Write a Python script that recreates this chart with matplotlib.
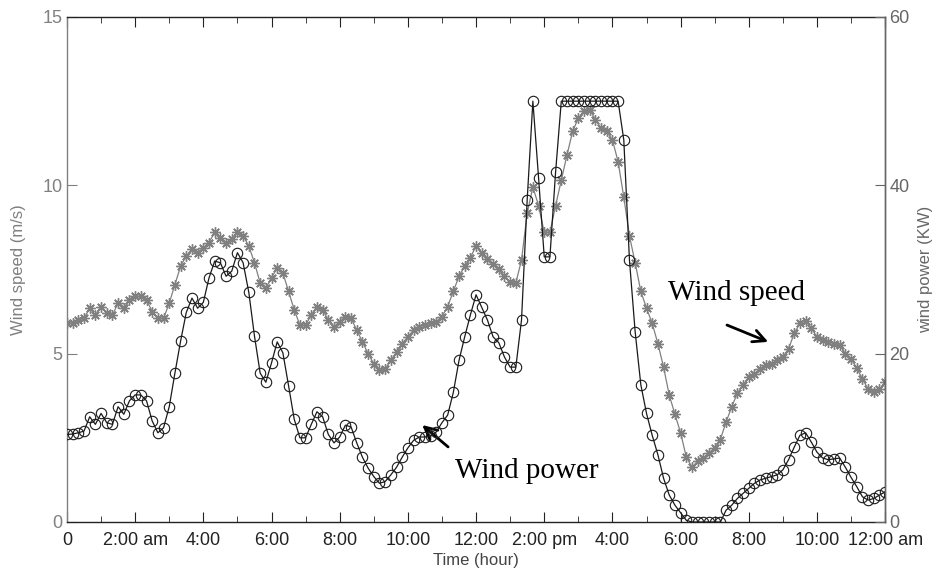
import numpy as np
import matplotlib
matplotlib.use("Agg")
from matplotlib import pyplot as plt
from matplotlib import rcParams

rcParams["font.family"] = "Liberation Sans"
rcParams["font.size"] = 11

# one reading every 10 minutes, 0:00 .. 24:00
hours = np.arange(145) / 6.0

wind_speed = [
    5.9, 5.92, 6.0, 6.05, 6.35, 6.15, 6.4, 6.2, 6.15, 6.5,
    6.35, 6.6, 6.7, 6.7, 6.6, 6.25, 6.05, 6.05, 6.5, 7.05,
    7.6, 7.9, 8.1, 8.0, 8.15, 8.3, 8.6, 8.45, 8.3, 8.4,
    8.6, 8.5, 8.2, 7.7, 7.1, 6.95, 7.25, 7.55, 7.4, 6.85,
    6.3, 5.85, 5.85, 6.15, 6.4, 6.3, 6.0, 5.8, 5.95, 6.1,
    6.05, 5.7, 5.35, 5.0, 4.7, 4.5, 4.55, 4.8, 5.05, 5.3,
    5.5, 5.7, 5.8, 5.85, 5.9, 5.95, 6.1, 6.4, 6.85, 7.3,
    7.6, 7.85, 8.2, 8.0, 7.8, 7.65, 7.5, 7.3, 7.13, 7.1,
    7.78, 9.18, 9.95, 9.4, 8.6, 8.6, 9.4, 10.15, 10.9, 11.6,
    12.0, 12.2, 12.25, 11.95, 11.7, 11.6, 11.35, 10.7, 9.65, 8.5,
    7.7, 6.85, 6.35, 5.9, 5.3, 4.6, 3.77, 3.2, 2.65, 1.93,
    1.63, 1.8, 1.9, 2.05, 2.2, 2.45, 2.97, 3.42, 3.83, 4.07,
    4.3, 4.4, 4.55, 4.65, 4.7, 4.8, 4.9, 5.15, 5.6, 5.9,
    5.98, 5.75, 5.5, 5.4, 5.35, 5.3, 5.25, 5.0, 4.85, 4.57,
    4.25, 3.95, 3.87, 3.95, 4.15,
]

wind_power = [
    10.4, 10.45, 10.6, 10.8, 12.5, 11.6, 12.9, 11.8, 11.6, 13.7,
    12.8, 14.4, 15.1, 15.1, 14.4, 12.0, 10.6, 11.2, 13.7, 17.7,
    21.5, 24.9, 26.6, 25.4, 26.1, 29.0, 31.0, 30.8, 29.2, 29.8,
    32.0, 30.8, 27.3, 22.1, 17.7, 16.6, 18.9, 21.4, 20.1, 16.2,
    12.2, 10.0, 10.0, 11.6, 13.1, 12.5, 10.4, 9.4, 10.1, 11.5,
    11.3, 9.4, 7.7, 6.4, 5.4, 4.6, 4.8, 5.6, 6.5, 7.7,
    8.8, 9.7, 10.1, 10.1, 10.2, 10.7, 11.8, 12.7, 15.4, 19.2,
    22.0, 24.6, 27.0, 25.5, 24.0, 22.0, 21.3, 19.6, 18.4, 18.4,
    24.0, 38.3, 50.0, 40.9, 31.5, 31.5, 41.6, 50.0, 50.0, 50.0,
    50.0, 50.0, 50.0, 50.0, 50.0, 50.0, 50.0, 50.0, 45.4, 31.1,
    22.6, 16.3, 12.9, 10.3, 8.0, 5.2, 3.2, 2.0, 1.1, 0.2,
    0.0, 0.0, 0.0, 0.0, 0.0, 0.0, 1.4, 2.0, 2.8, 3.4,
    4.0, 4.6, 5.0, 5.2, 5.4, 5.6, 6.2, 7.4, 8.9, 10.3,
    10.6, 9.5, 8.3, 7.6, 7.4, 7.5, 7.6, 6.5, 5.3, 4.2,
    3.0, 2.6, 2.8, 3.2, 3.6,
]

tick_hours = list(range(0, 25, 2))
tick_labels = ["0", "2:00 am", "4:00", "6:00", "8:00", "10:00", "12:00",
               "2:00 pm", "4:00", "6:00", "8:00", "10:00", "12:00 am"]

SPEED_GREY = "#808080"

fig = plt.figure(figsize=(9.34, 5.8), dpi=100)
ax = fig.add_axes([0.0717, 0.1, 0.876, 0.8707])
ax2 = ax.twinx()

# wind speed, left axis
ax.plot(hours, wind_speed, color=SPEED_GREY, lw=0.9, marker=(8, 2, 0),
        markersize=7.5, markeredgewidth=1.0, markeredgecolor=SPEED_GREY)
# wind power, right axis
ax2.plot(hours, wind_power, color="#1a1a1a", lw=0.9, marker="o",
         markersize=7.5, markerfacecolor="none", markeredgecolor="#1a1a1a",
         markeredgewidth=0.8)

ax.set_xlim(0, 24)
ax.set_ylim(0, 15)
ax2.set_ylim(0, 60)

ax.set_xticks(tick_hours)
ax.set_xticklabels(tick_labels, fontsize=13, color="#222222")
ax.set_xticks(range(1, 24, 2), minor=True)
ax.set_yticks([0, 5, 10, 15])
ax2.set_yticks([0, 20, 40, 60])

ax.tick_params(axis="x", which="both", direction="in", top=True, pad=7)
ax.tick_params(axis="x", which="major", length=7, color="#222222")
ax.tick_params(axis="x", which="minor", length=4, color="#222222")
ax.tick_params(axis="y", direction="in", length=7, colors=SPEED_GREY,
               labelsize=13, pad=3)
ax2.tick_params(axis="y", direction="in", length=7, colors="#666666",
                labelsize=13, pad=3)

for side, spine in ax.spines.items():
    spine.set_linewidth(1.0)
ax.spines["left"].set_color(SPEED_GREY)
ax.spines["bottom"].set_color("#222222")
ax.spines["top"].set_color("#222222")
ax2.spines["right"].set_color("#666666")
ax2.spines["left"].set_visible(False)
ax2.spines["top"].set_visible(False)
ax2.spines["bottom"].set_visible(False)

ax.set_xlabel("Time (hour)", fontsize=12, color="#444444", labelpad=3)
ax.set_ylabel("Wind speed (m/s)", fontsize=12, color=SPEED_GREY, labelpad=12)
ax2.set_ylabel("wind power (KW)", fontsize=12, color="#666666", labelpad=6,
               rotation=90)

serif = ["Liberation Serif", "DejaVu Serif"]
arrow_kw = dict(arrowstyle="->", lw=2, color="black", mutation_scale=22,
                shrinkA=0, shrinkB=0)

ax.text(17.63, 6.6, "Wind speed", fontsize=21, family=serif,
        ha="left", va="baseline")
ax.annotate("", xy=(20.57, 5.35), xytext=(19.36, 5.85), arrowprops=arrow_kw)

ax.text(11.38, 1.31, "Wind power", fontsize=21, family=serif,
        ha="left", va="baseline")
ax.annotate("", xy=(10.42, 2.88), xytext=(11.18, 2.23), arrowprops=arrow_kw)

fig.savefig("out.png", dpi=100)
